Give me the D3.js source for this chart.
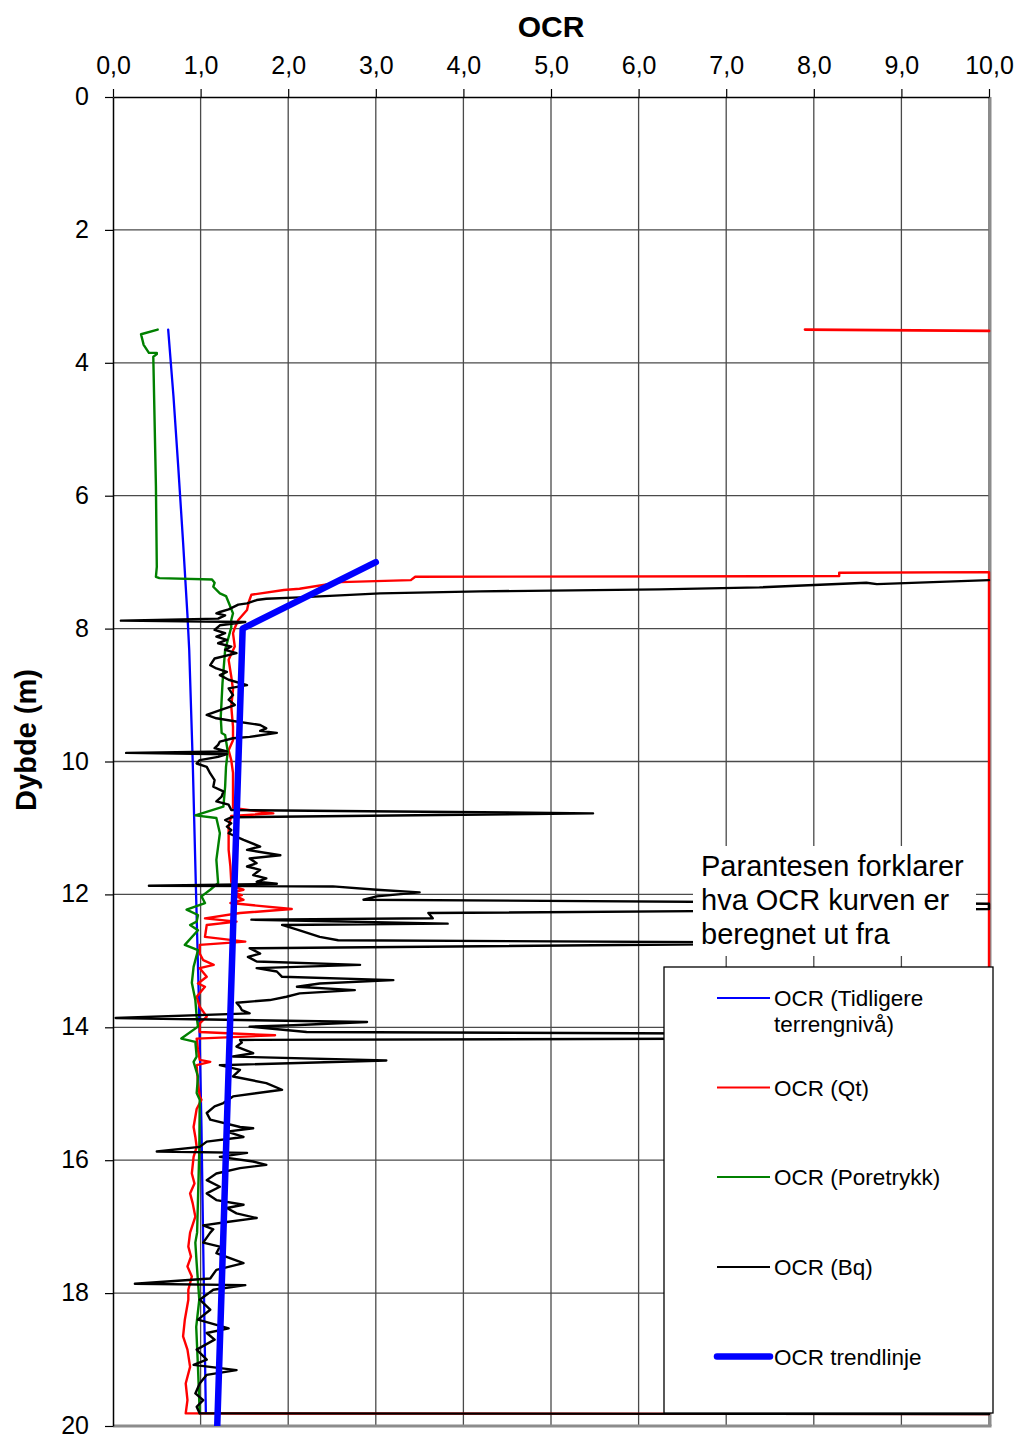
<!DOCTYPE html>
<html>
<head>
<meta charset="utf-8">
<script src="https://cdn.jsdelivr.net/npm/d3@7"></script>
<style>
  body { margin: 0; background: #fff; }
  text { font-family: Arial, "Liberation Sans", sans-serif; }
</style>
</head>
<body>
<div id="chart"></div>
<script>
// OCR profile vs depth; each point is [OCR, dybde (m)]
var xTicks = [0, 1, 2, 3, 4, 5, 6, 7, 8, 9, 10];
var yTicks = [0, 2, 4, 6, 8, 10, 12, 14, 16, 18, 20];

var ocrTidligere = [[0.63,3.50],[0.69,4.50],[0.745,5.57],[0.80,6.70],[0.85,7.80],[0.87,8.32],
  [0.91,10.0],[0.95,12.08],[0.98,13.57],[1.01,15.5],[1.03,17.3],[1.06,19.8]];

var ocrQtTop = [[7.90,3.50],[10.0,3.52]];

var ocrQt = [[10.0,7.15],[8.29,7.16],[8.29,7.21],[3.45,7.22],[3.40,7.27],[2.60,7.30],[2.13,7.40],
  [1.95,7.42],[1.58,7.49],[1.55,7.60],[1.53,7.72],[1.43,7.87],[1.39,7.99],[1.37,8.07],[1.39,8.27],
  [1.32,8.47],[1.35,8.72],[1.37,8.92],[1.35,9.17],[1.37,9.48],[1.37,9.68],[1.32,9.83],[1.35,9.98],
  [1.37,10.17],[1.37,10.48],[1.37,10.70],[1.83,10.78],[1.35,10.82],[1.32,10.98],[1.32,11.33],
  [1.34,11.58],[1.35,11.81],[1.37,11.88],[1.49,11.93],[1.37,11.97],[1.47,12.01],[1.41,12.03],
  [1.49,12.08],[1.34,12.13],[2.04,12.22],[1.45,12.28],[1.05,12.36],[1.41,12.41],[1.07,12.46],
  [1.05,12.64],[1.51,12.71],[0.99,12.76],[0.99,12.89],[1.03,12.99],[1.15,13.06],[0.99,13.11],
  [1.07,13.24],[0.97,13.34],[1.05,13.39],[0.955,13.54],[0.99,13.69],[1.07,13.84],[0.99,13.94],
  [0.99,14.07],[1.85,14.12],[0.955,14.17],[0.97,14.34],[0.99,14.49],[1.11,14.52],[0.955,14.57],
  [0.97,14.84],[0.99,15.04],[1.01,15.09],[0.955,15.23],[0.92,15.50],[0.94,15.65],[0.955,15.80],
  [0.92,15.95],[0.90,16.20],[0.93,16.35],[0.88,16.50],[0.91,16.65],[0.94,16.85],[0.88,17.09],
  [0.86,17.30],[0.89,17.45],[0.85,17.60],[0.90,17.75],[0.86,17.95],[0.86,18.10],[0.82,18.40],
  [0.80,18.65],[0.85,18.85],[0.88,19.11],[0.83,19.36],[0.85,19.61],[0.83,19.81],[10.0,19.82],[10.0,7.15]];

var ocrPoretrykk = [[0.51,3.50],[0.32,3.57],[0.35,3.73],[0.41,3.85],[0.50,3.85],[0.50,3.87],[0.46,3.91],
  [0.49,5.86],[0.50,7.07],[0.49,7.22],[0.53,7.24],[1.13,7.26],[1.16,7.31],[1.145,7.37],[1.22,7.47],
  [1.29,7.51],[1.34,7.67],[1.37,7.77],[1.35,7.87],[1.35,7.98],[1.28,8.32],[1.25,8.82],[1.23,9.33],
  [1.24,9.57],[1.28,9.60],[1.31,9.85],[1.29,10.08],[1.28,10.38],[1.26,10.68],[0.94,10.81],[1.18,10.85],
  [1.22,11.08],[1.18,11.48],[1.20,11.83],[1.11,11.93],[1.01,12.03],[1.05,12.13],[0.84,12.23],
  [0.97,12.31],[0.955,12.41],[0.88,12.46],[0.97,12.54],[0.82,12.76],[0.97,12.84],[0.92,13.09],
  [0.90,13.33],[0.94,13.59],[0.955,13.84],[0.97,13.99],[0.78,14.17],[0.94,14.22],[0.955,14.44],
  [0.92,14.52],[0.97,14.74],[0.955,14.99],[0.99,15.09],[0.985,15.85],[0.97,16.60],[0.96,17.09],
  [0.94,17.24],[0.955,17.55],[0.985,18.10],[0.95,18.51],[0.97,19.11],[0.99,19.81]];

var ocrBq = [[10.0,7.27],[8.72,7.33],[8.60,7.31],[7.38,7.38],[6.24,7.41],[4.19,7.44],[3.05,7.47],
  [2.13,7.53],[1.75,7.55],[1.64,7.57],[1.53,7.62],[1.43,7.64],[1.32,7.71],[1.22,7.75],[1.18,7.77],
  [1.28,7.80],[1.20,7.85],[0.09,7.88],[1.51,7.90],[1.22,7.95],[1.16,8.02],[1.28,8.07],[1.18,8.12],
  [1.30,8.17],[1.20,8.22],[1.35,8.27],[1.28,8.32],[1.41,8.37],[1.16,8.45],[1.11,8.55],[1.18,8.60],
  [1.30,8.65],[1.22,8.70],[1.32,8.77],[1.53,8.85],[1.32,8.90],[1.37,9.00],[1.32,9.07],[1.39,9.15],
  [1.24,9.22],[1.07,9.30],[1.18,9.35],[1.37,9.39],[1.68,9.45],[1.75,9.50],[1.68,9.54],[1.87,9.57],
  [1.56,9.63],[1.37,9.65],[1.22,9.70],[1.20,9.75],[1.16,9.80],[1.30,9.85],[0.15,9.87],[1.30,9.89],
  [1.20,9.93],[0.99,9.98],[0.955,10.03],[1.07,10.08],[1.11,10.18],[1.16,10.28],[1.145,10.38],
  [1.26,10.45],[1.24,10.53],[1.18,10.60],[1.32,10.65],[1.35,10.73],[5.48,10.78],[1.35,10.84],
  [1.28,10.88],[1.35,10.93],[1.30,10.98],[1.35,11.03],[1.32,11.08],[1.49,11.18],[1.68,11.28],
  [1.53,11.33],[1.91,11.41],[1.56,11.46],[1.64,11.53],[1.53,11.58],[1.68,11.63],[1.60,11.71],
  [1.75,11.76],[1.64,11.81],[1.87,11.84],[0.41,11.87],[2.51,11.88],[3.01,11.93],[3.50,11.97],
  [3.01,12.03],[2.86,12.08],[10.0,12.14],[10.0,12.22],[3.60,12.28],[3.65,12.36],[1.58,12.38],
  [3.82,12.44],[1.93,12.46],[2.13,12.54],[2.36,12.64],[2.57,12.69],[8.50,12.73],[1.56,12.81],
  [1.68,12.89],[1.54,12.94],[1.64,13.01],[2.82,13.06],[1.64,13.11],[1.87,13.16],[1.93,13.24],
  [3.20,13.29],[2.36,13.34],[2.10,13.39],[2.76,13.44],[2.13,13.49],[1.98,13.54],[1.79,13.59],
  [1.41,13.63],[1.45,13.69],[1.47,13.74],[1.56,13.79],[0.03,13.86],[2.90,13.92],[2.06,13.97],
  [1.56,13.99],[2.21,14.07],[10.0,14.11],[10.0,14.16],[1.45,14.19],[1.47,14.23],[1.41,14.29],
  [1.60,14.39],[1.37,14.44],[3.12,14.50],[1.22,14.57],[1.45,14.64],[1.37,14.74],[1.75,14.84],
  [1.93,14.94],[1.37,15.04],[1.26,15.14],[1.16,15.19],[1.07,15.29],[1.11,15.39],[1.45,15.50],
  [1.60,15.52],[1.30,15.57],[1.49,15.65],[1.07,15.72],[0.99,15.80],[0.50,15.87],[1.53,15.89],
  [1.22,15.95],[1.60,16.02],[1.75,16.07],[1.45,16.12],[1.18,16.20],[1.07,16.30],[1.22,16.40],
  [1.07,16.50],[1.18,16.60],[1.49,16.67],[1.30,16.72],[1.41,16.80],[1.64,16.87],[1.30,16.93],
  [1.03,16.98],[1.145,17.04],[1.11,17.09],[1.03,17.24],[1.22,17.30],[1.18,17.40],[1.49,17.55],
  [1.18,17.65],[1.11,17.78],[0.25,17.86],[1.51,17.88],[1.145,17.95],[0.99,18.10],[1.11,18.25],
  [0.97,18.40],[1.32,18.53],[1.07,18.60],[1.16,18.70],[0.955,18.85],[1.07,19.00],[0.92,19.08],
  [1.41,19.16],[1.07,19.23],[0.99,19.36],[0.94,19.51],[1.03,19.61],[0.955,19.71],[0.99,19.81],[10.0,19.82]];

var ocrTrend = [[3.0,7.0],[1.48,8.0],[1.19,20.0]];

var legendNames = [["OCR (Tidligere", "terrengnivå)"], ["OCR (Qt)"], ["OCR (Poretrykk)"], ["OCR (Bq)"], ["OCR trendlinje"]];
var legendColors = ["#0000ff", "#ff0000", "#008000", "#000000", "#0000ff"];
var noteLines = ["Parantesen forklarer", "hva OCR kurven er", "beregnet ut fra"];

var width = 1018, height = 1436;
var x = d3.scaleLinear().domain([0, 10]).range([113, 989]);
var y = d3.scaleLinear().domain([0, 20]).range([97, 1426]);

var svg = d3.select("#chart").append("svg")
    .attr("width", width).attr("height", height);

svg.append("defs").append("clipPath").attr("id", "plotclip")
  .append("rect").attr("x", x(0)).attr("y", y(0))
    .attr("width", x(10) - x(0) + 2).attr("height", y(20) - y(0));

// gridlines
svg.append("g").selectAll("line").data(xTicks.slice(1)).enter().append("line")
    .attr("x1", d => x(d)).attr("x2", d => x(d)).attr("y1", y(0)).attr("y2", y(20))
    .attr("stroke", "#4a4a4a").attr("stroke-width", 1.3);
svg.append("g").selectAll("line").data(yTicks.slice(1)).enter().append("line")
    .attr("x1", x(0)).attr("x2", x(10)).attr("y1", d => y(d)).attr("y2", d => y(d))
    .attr("stroke", "#4a4a4a").attr("stroke-width", 1.3);

// plot border right / bottom
svg.append("line").attr("x1", x(10) + 1).attr("x2", x(10) + 1).attr("y1", y(0)).attr("y2", y(20))
    .attr("stroke", "#8c8c8c").attr("stroke-width", 3);
svg.append("line").attr("x1", x(0)).attr("x2", x(10) + 2.5).attr("y1", y(20)).attr("y2", y(20))
    .attr("stroke", "#8c8c8c").attr("stroke-width", 3);

// axes
var fmt = d => d.toFixed(1).replace(".", ",");
var xAxis = svg.append("g").attr("transform", "translate(0," + y(0) + ")")
    .call(d3.axisTop(x).tickValues(xTicks).tickSize(8).tickSizeOuter(0).tickPadding(15).tickFormat(fmt));
var yAxis = svg.append("g").attr("transform", "translate(" + x(0) + ",0)")
    .call(d3.axisLeft(y).tickValues(yTicks).tickSize(8).tickSizeOuter(0).tickPadding(16));
[xAxis, yAxis].forEach(function(a) {
  a.selectAll("text").attr("font-size", 25).attr("fill", "#000")
    .style("font-family", "Arial, 'Liberation Sans', sans-serif");
  a.selectAll("line").attr("stroke", "#000").attr("stroke-width", 1.2);
  a.select(".domain").attr("stroke", "#000").attr("stroke-width", 1.5);
});
yAxis.selectAll("text").attr("dy", "0.3em");

// series
var line = d3.line().x(d => x(d[0])).y(d => y(d[1]));
var plot = svg.append("g").attr("clip-path", "url(#plotclip)");
function draw(data, color, w) {
  plot.append("path").datum(data)
    .attr("d", line).attr("fill", "none")
    .attr("stroke", color).attr("stroke-width", w)
    .attr("stroke-linejoin", "round").attr("stroke-linecap", "round");
}
draw(ocrTidligere, legendColors[0], 2.3);
draw(ocrQtTop, legendColors[1], 2.8);
draw(ocrQt, legendColors[1], 2.4);
draw(ocrPoretrykk, legendColors[2], 2.4);
draw(ocrBq, legendColors[3], 2.4);
draw(ocrTrend, legendColors[4], 6.5);

// titles
svg.append("text").attr("x", 551).attr("y", 37).attr("text-anchor", "middle")
    .attr("font-size", 30).attr("font-weight", "bold").text("OCR");
svg.append("text").attr("transform", "translate(36,740) rotate(-90)").attr("text-anchor", "middle")
    .attr("font-size", 29).attr("font-weight", "bold").text("Dybde (m)");

// note box
svg.append("rect").attr("x", 693).attr("y", 846).attr("width", 283).attr("height", 110).attr("fill", "#fff");
svg.append("g").selectAll("text").data(noteLines).enter().append("text")
    .attr("x", 701).attr("y", (d, i) => 876 + i * 34)
    .attr("font-size", 29).attr("fill", "#000").text(d => d);

// legend
var lg = svg.append("g");
lg.append("rect").attr("x", 664).attr("y", 967).attr("width", 329).attr("height", 446)
    .attr("fill", "#fff").attr("stroke", "#000").attr("stroke-width", 1.3);
var rowY = [998, 1087.5, 1177, 1267, 1356.5];
legendNames.forEach(function(names, i) {
  lg.append("line").attr("x1", 717).attr("x2", 770).attr("y1", rowY[i]).attr("y2", rowY[i])
    .attr("stroke", legendColors[i]).attr("stroke-width", i === 4 ? 6.5 : 2.2)
    .attr("stroke-linecap", i === 4 ? "round" : "butt");
  names.forEach(function(t, j) {
    lg.append("text").attr("x", 774).attr("y", rowY[i] + 8 + j * 26)
      .attr("font-size", 22.5).attr("fill", "#000").text(t);
  });
});
</script>
</body>
</html>
